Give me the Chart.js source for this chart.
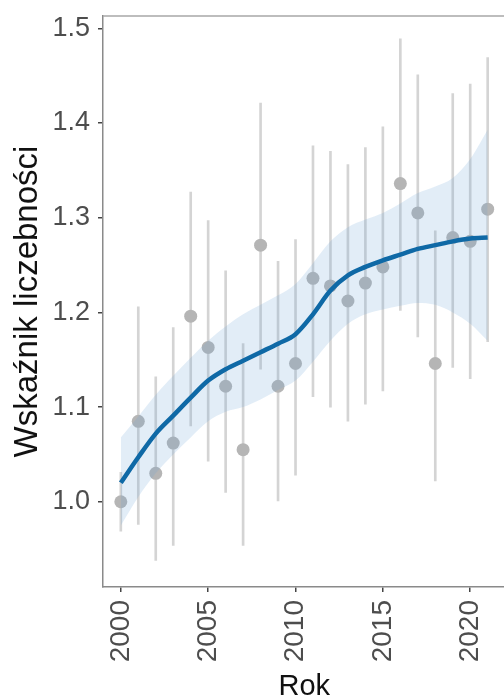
<!DOCTYPE html>
<html><head><meta charset="utf-8">
<script src="https://cdn.jsdelivr.net/npm/chart.js@4/dist/chart.umd.min.js"></script>
<style>
html,body{margin:0;padding:0;background:#fff;overflow:hidden;width:504px;height:700px}
#wrap{position:relative;width:512px;height:700px}
</style>
</head><body><div id="wrap"><canvas id="c"></canvas></div>
<script>
// ---- data ----
const years = [2000,2001,2002,2003,2004,2005,2006,2007,2008,2009,2010,2011,2012,2013,2014,2015,2016,2017,2018,2019,2020,2021];
const indexValue = [1.000,1.085,1.030,1.062,1.196,1.163,1.122,1.055,1.271,1.122,1.146,1.236,1.228,1.212,1.231,1.248,1.336,1.305,1.146,1.279,1.275,1.309];
const ciLower = [0.969,0.976,0.938,0.954,1.080,1.043,1.010,0.954,1.140,1.001,1.028,1.111,1.100,1.085,1.103,1.117,1.202,1.174,1.022,1.142,1.130,1.169];
const ciUpper = [1.031,1.206,1.132,1.184,1.327,1.297,1.244,1.167,1.421,1.254,1.277,1.376,1.370,1.356,1.374,1.396,1.489,1.451,1.286,1.431,1.441,1.469];
const trend = [1.020,1.047,1.072,1.091,1.110,1.128,1.140,1.149,1.158,1.167,1.177,1.198,1.223,1.239,1.248,1.255,1.261,1.267,1.271,1.275,1.278,1.279];
const trendLower = [0.975,1.005,1.030,1.050,1.068,1.085,1.095,1.100,1.108,1.118,1.128,1.148,1.170,1.188,1.198,1.203,1.207,1.210,1.208,1.200,1.188,1.170];
const trendUpper = [1.068,1.090,1.113,1.133,1.152,1.170,1.185,1.198,1.208,1.218,1.230,1.252,1.275,1.290,1.298,1.305,1.315,1.326,1.333,1.342,1.362,1.393];
const xTicks = [2000,2005,2010,2015,2020];
const yTicks = [1.0,1.1,1.2,1.3,1.4,1.5];
const xTitle = 'Rok';
const yTitle = 'Wskaźnik liczebności';

const FONT = "'Liberation Sans', Arial, Helvetica, sans-serif";
const pts = arr => years.map((x,i)=>({x, y: arr[i]}));

const frame = {
  id:'frame',
  afterDatasetsDraw(chart){
    const {ctx, chartArea:a} = chart;
    ctx.save();
    ctx.strokeStyle = '#a8a8a8';
    ctx.lineWidth = 1.5;
    ctx.beginPath();
    ctx.moveTo(a.left, a.top); ctx.lineTo(a.right, a.top); ctx.lineTo(a.right, a.bottom);
    ctx.stroke();
    ctx.restore();
  }
};

new Chart(document.getElementById('c'), {
  type: 'line',
  data: { datasets: [
    { label:'trend', data: pts(trend), borderColor:'#0f69a6', borderWidth:4.5, pointRadius:0,
      cubicInterpolationMode:'monotone', fill:false, order:0 },
    { label:'ciLow', data: pts(trendLower), borderWidth:0, borderColor:'rgba(0,0,0,0)', pointRadius:0,
      cubicInterpolationMode:'monotone', fill:false, order:2 },
    { label:'ciHigh', data: pts(trendUpper), borderWidth:0, borderColor:'rgba(0,0,0,0)', pointRadius:0,
      cubicInterpolationMode:'monotone', fill:'-1', backgroundColor:'rgba(110,165,215,0.2)', order:1 },
    { type:'scatter', label:'index', data: pts(indexValue), pointRadius:6.5, backgroundColor:'#b5b5b5',
      borderWidth:0, showLine:false, order:3 },
    { type:'bar', label:'ci', data: years.map((x,i)=>({x, y:[ciLower[i], ciUpper[i]]})),
      backgroundColor:'#d4d4d4', barThickness:2, grouped:false, order:4 }
  ]},
  options: {
    responsive:true, maintainAspectRatio:false, animation:false,
    events: [],
    layout:{ padding:{ top:16, left:0, right:1, bottom:0 } },
    plugins:{ legend:{display:false}, tooltip:{enabled:false} },
    scales:{
      x:{
        type:'linear', min:1998.98, max:2022.02, offset:false, bounds:'data',
        afterBuildTicks: s => { s.ticks = xTicks.map(v=>({value:v})); },
        afterFit: s => { s.height = 113; s.paddingLeft = 0; s.paddingRight = 0; },
        border:{ display:true, color:'#8a8a8a', width:1.5 },
        grid:{ display:true, drawOnChartArea:false, drawTicks:true, tickLength:5, color:'#444', lineWidth:1.5, offset:false },
        ticks:{ font:{ family:FONT, size:28 }, color:'#4d4d4d', padding:8, minRotation:90, maxRotation:90,
          autoSkip:false, callback: v => String(v) },
        title:{ display:true, text:xTitle, font:{ family:FONT, size:29, lineHeight:0.9 }, color:'#111',
          padding:{ top:0, bottom:0 } }
      },
      y:{
        type:'linear', min:0.910, max:1.513, bounds:'data',
        afterBuildTicks: s => { s.ticks = yTicks.map(v=>({value:v})); },
        afterFit: s => { s.width = 103; s.paddingTop = 0; s.paddingBottom = 0; },
        border:{ display:true, color:'#8a8a8a', width:1.5 },
        grid:{ display:true, drawOnChartArea:false, drawTicks:true, tickLength:5, color:'#444', lineWidth:1.5 },
        ticks:{ font:{ family:FONT, size:27 }, color:'#4d4d4d', padding:8, callback: v => v.toFixed(1) },
        title:{ display:true, text:yTitle, font:{ family:FONT, size:33 }, color:'#111',
          padding:{ top:8, bottom:0 } }
      }
    }
  },
  plugins:[frame]
});
</script>
</body></html>
